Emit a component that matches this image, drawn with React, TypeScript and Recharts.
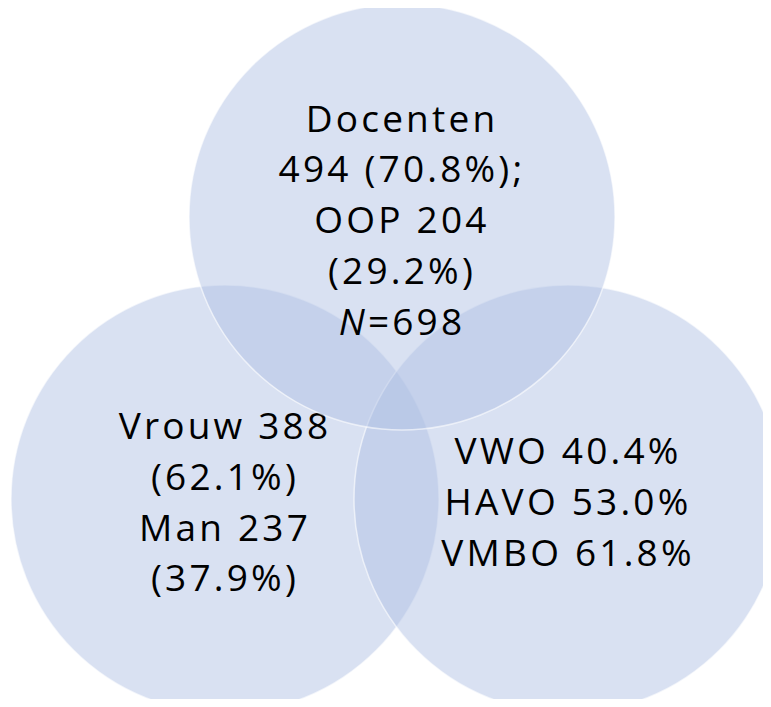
import React from 'react';
import { ScatterChart, Scatter, XAxis, YAxis, ZAxis } from 'recharts';

// Venn sets: centres and radii in chart units (1 unit = 1px)
const setNames = ['Geslacht', 'Schooltype', 'Functie'];
const setX = [225, 568, 402];
const setY = [499, 499, 217];
const setR = [214, 214, 213];
const setLabels = [
  ['Vrouw 388', '(62.1%)', 'Man 237', '(37.9%)'],
  ['VWO 40.4%', 'HAVO 53.0%', 'VMBO 61.8%'],
  ['Docenten', '494 (70.8%);', 'OOP 204', '(29.2%)', '*N*=698'],
];

const W = 771;
const H = 707;
const LINE_H = 50.8;
const FONT_SIZE = 37;

const data = setNames.map((name, i) => ({
  name,
  x: setX[i],
  y: setY[i],
  area: Math.PI * setR[i] * setR[i],
  r: setR[i],
  lines: setLabels[i],
}));

// "*N*=698" -> italic N followed by normal text
const renderLine = (line: string) => {
  const parts = line.split('*');
  return parts.map((p, k) =>
    p ? (
      <tspan key={k} fontStyle={k % 2 === 1 ? 'italic' : 'normal'}>
        {p}
      </tspan>
    ) : null
  );
};

const VennShape = (props: any) => {
  const { cx, cy, payload } = props;
  const r = props.width ? props.width / 2 : payload.r;
  const lines: string[] = payload.lines;
  const capH = FONT_SIZE * 0.714;
  const first = cy - ((lines.length - 1) / 2) * LINE_H + capH / 2 + 3;
  return (
    <g>
      <circle cx={cx} cy={cy} r={r} fill="#afc0e4" fillOpacity={0.47} stroke="#ffffff" strokeOpacity={0.6} strokeWidth={1.5} />
      <text
        textAnchor="middle"
        fontFamily="'Open Sans', sans-serif"
        fontSize={FONT_SIZE}
        letterSpacing={3.2}
        fill="#000000"
      >
        {lines.map((l, j) => (
          <tspan key={j} x={cx} y={first + j * LINE_H}>
            {renderLine(l)}
          </tspan>
        ))}
      </text>
    </g>
  );
};

export default function App() {
  return (
    <div style={{ width: W, height: H, margin: -8, background: '#ffffff' }}>
      <ScatterChart width={W} height={H} margin={{ top: 0, right: 0, bottom: 0, left: 0 }}>
        <XAxis type="number" dataKey="x" domain={[0, W]} hide />
        <YAxis type="number" dataKey="y" domain={[0, H]} reversed hide />
        <ZAxis type="number" dataKey="area" domain={[0, 200000]} range={[0, 200000]} />
        <Scatter data={data} shape={<VennShape />} isAnimationActive={false} />
      </ScatterChart>
    </div>
  );
}
